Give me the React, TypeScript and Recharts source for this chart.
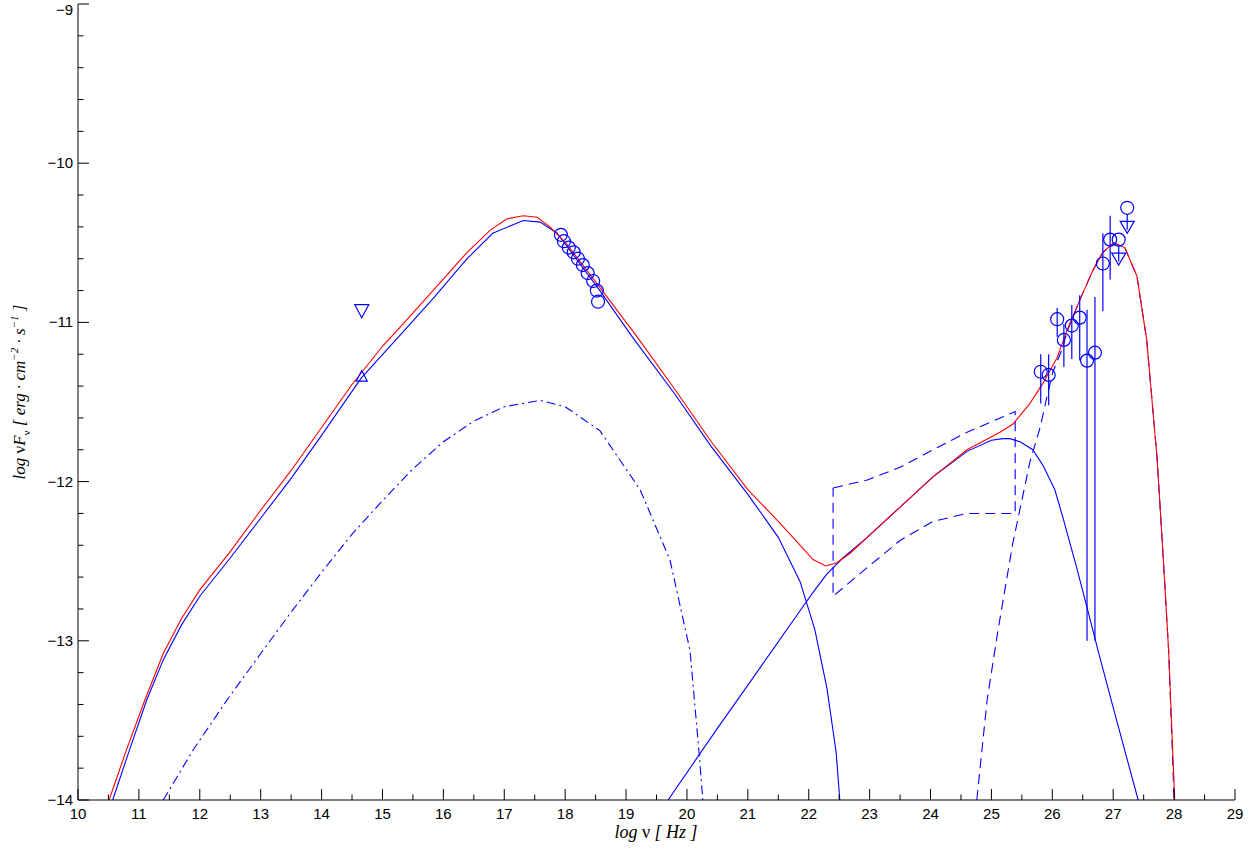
import React from 'react';
import { ComposedChart, Line, Scatter, XAxis, YAxis, ErrorBar } from 'recharts';

// ---------- tick values ----------
const xTicks = [10, 10.5, 11, 11.5, 12, 12.5, 13, 13.5, 14, 14.5, 15, 15.5, 16, 16.5, 17, 17.5, 18, 18.5, 19, 19.5, 20, 20.5, 21, 21.5, 22, 22.5, 23, 23.5, 24, 24.5, 25, 25.5, 26, 26.5, 27, 27.5, 28, 28.5, 29];
const yTicks = [-14, -13.8, -13.6, -13.4, -13.2, -13, -12.8, -12.6, -12.4, -12.2, -12, -11.8, -11.6, -11.4, -11.2, -11, -10.8, -10.6, -10.4, -10.2, -10, -9.8, -9.6, -9.4, -9.2, -9];

// ---------- model curves ----------
const totalCurve = [
  { x: 10.51, y: -14 }, { x: 10.8, y: -13.68 }, { x: 11.1, y: -13.37 }, { x: 11.4, y: -13.08 },
  { x: 11.7, y: -12.86 }, { x: 12.0, y: -12.68 }, { x: 12.5, y: -12.44 }, { x: 13.0, y: -12.18 },
  { x: 13.5, y: -11.93 }, { x: 14.0, y: -11.66 }, { x: 14.5, y: -11.39 }, { x: 15.0, y: -11.15 },
  { x: 15.29, y: -11.03 }, { x: 15.83, y: -10.8 }, { x: 16.39, y: -10.56 }, { x: 16.77, y: -10.42 },
  { x: 17.04, y: -10.35 }, { x: 17.31, y: -10.33 }, { x: 17.54, y: -10.34 }, { x: 17.75, y: -10.4 },
  { x: 18.03, y: -10.51 }, { x: 18.57, y: -10.78 }, { x: 19.2, y: -11.1 }, { x: 19.8, y: -11.42 },
  { x: 20.4, y: -11.75 }, { x: 21.0, y: -12.05 }, { x: 21.5, y: -12.25 }, { x: 21.86, y: -12.4 },
  { x: 22.07, y: -12.49 }, { x: 22.28, y: -12.53 }, { x: 22.46, y: -12.51 }, { x: 22.68, y: -12.45 },
  { x: 22.96, y: -12.35 }, { x: 23.5, y: -12.16 }, { x: 24.04, y: -11.97 }, { x: 24.6, y: -11.8 },
  { x: 25.14, y: -11.69 }, { x: 25.35, y: -11.64 }, { x: 25.63, y: -11.51 }, { x: 25.85, y: -11.38 },
  { x: 26.08, y: -11.22 }, { x: 26.24, y: -11.05 }, { x: 26.45, y: -10.86 }, { x: 26.67, y: -10.67 },
  { x: 26.83, y: -10.56 }, { x: 27.01, y: -10.5 }, { x: 27.19, y: -10.53 }, { x: 27.39, y: -10.71 },
  { x: 27.55, y: -11.11 }, { x: 27.72, y: -11.85 }, { x: 27.82, y: -12.47 }, { x: 27.91, y: -13.06 },
  { x: 28.01, y: -14 },
];

const synchrotron = [
  { x: 10.57, y: -14 }, { x: 10.85, y: -13.68 }, { x: 11.13, y: -13.37 }, { x: 11.4, y: -13.12 },
  { x: 11.7, y: -12.9 }, { x: 12.0, y: -12.72 }, { x: 12.5, y: -12.48 }, { x: 13.0, y: -12.23 },
  { x: 13.5, y: -11.98 }, { x: 14.0, y: -11.71 }, { x: 14.65, y: -11.35 }, { x: 15.29, y: -11.08 },
  { x: 15.83, y: -10.85 }, { x: 16.39, y: -10.6 }, { x: 16.81, y: -10.44 }, { x: 17.31, y: -10.36 },
  { x: 17.59, y: -10.37 }, { x: 17.87, y: -10.44 }, { x: 18.57, y: -10.8 }, { x: 19.12, y: -11.1 },
  { x: 19.8, y: -11.45 }, { x: 20.4, y: -11.78 }, { x: 21.0, y: -12.08 }, { x: 21.5, y: -12.35 },
  { x: 21.86, y: -12.63 }, { x: 22.1, y: -12.93 }, { x: 22.3, y: -13.3 }, { x: 22.45, y: -13.7 },
  { x: 22.51, y: -14 },
];

const discSync = [
  { x: 11.4, y: -14 }, { x: 11.9, y: -13.68 }, { x: 12.45, y: -13.37 }, { x: 13.0, y: -13.08 },
  { x: 13.5, y: -12.82 }, { x: 14.0, y: -12.57 }, { x: 14.5, y: -12.33 }, { x: 15.0, y: -12.12 },
  { x: 15.5, y: -11.92 }, { x: 16.0, y: -11.75 }, { x: 16.5, y: -11.62 }, { x: 17.0, y: -11.53 },
  { x: 17.59, y: -11.49 }, { x: 18.0, y: -11.53 }, { x: 18.57, y: -11.68 }, { x: 19.23, y: -12.05 },
  { x: 19.72, y: -12.49 }, { x: 20.05, y: -13.06 }, { x: 20.21, y: -13.75 }, { x: 20.26, y: -14 },
];

const ssc = [
  { x: 19.69, y: -14 }, { x: 20.5, y: -13.55 }, { x: 21.2, y: -13.17 }, { x: 21.86, y: -12.81 },
  { x: 22.1, y: -12.68 }, { x: 22.3, y: -12.58 }, { x: 22.56, y: -12.48 }, { x: 22.96, y: -12.35 },
  { x: 23.5, y: -12.16 }, { x: 24.04, y: -11.97 }, { x: 24.6, y: -11.81 }, { x: 25.0, y: -11.74 },
  { x: 25.19, y: -11.73 }, { x: 25.3, y: -11.73 }, { x: 25.47, y: -11.75 }, { x: 25.68, y: -11.8 },
  { x: 25.85, y: -11.9 }, { x: 26.04, y: -12.05 }, { x: 26.17, y: -12.22 }, { x: 26.4, y: -12.54 },
  { x: 26.57, y: -12.79 }, { x: 26.75, y: -13.06 }, { x: 27.0, y: -13.42 }, { x: 27.41, y: -14 },
];

const externalCompton = [
  { x: 24.76, y: -14 }, { x: 24.93, y: -13.37 }, { x: 25.11, y: -12.93 }, { x: 25.35, y: -12.39 },
  { x: 25.63, y: -11.88 }, { x: 25.8, y: -11.66 }, { x: 25.91, y: -11.47 }, { x: 26.01, y: -11.31 },
  { x: 26.17, y: -11.16 }, { x: 26.24, y: -11.06 }, { x: 26.45, y: -10.86 }, { x: 26.67, y: -10.67 },
  { x: 26.83, y: -10.56 }, { x: 27.01, y: -10.5 }, { x: 27.19, y: -10.53 }, { x: 27.39, y: -10.71 },
  { x: 27.55, y: -11.11 }, { x: 27.72, y: -11.85 }, { x: 27.82, y: -12.47 }, { x: 27.91, y: -13.06 },
  { x: 28.0, y: -14 },
];

// Fermi butterfly (closed outline)
const butterfly = [
  { x: 22.4, y: -12.04 }, { x: 22.96, y: -11.99 }, { x: 23.5, y: -11.91 }, { x: 24.04, y: -11.8 },
  { x: 24.6, y: -11.69 }, { x: 25.39, y: -11.56 }, { x: 25.39, y: -12.2 }, { x: 24.86, y: -12.2 },
  { x: 24.6, y: -12.2 }, { x: 24.04, y: -12.25 }, { x: 23.5, y: -12.37 }, { x: 22.96, y: -12.54 },
  { x: 22.4, y: -12.72 }, { x: 22.4, y: -12.04 },
];

// ---------- observations ----------
const xrayPoints = [
  { x: 17.93, y: -10.45 }, { x: 17.98, y: -10.49 }, { x: 18.06, y: -10.53 }, { x: 18.14, y: -10.56 },
  { x: 18.21, y: -10.6 }, { x: 18.29, y: -10.64 }, { x: 18.37, y: -10.69 }, { x: 18.46, y: -10.74 },
  { x: 18.52, y: -10.8 }, { x: 18.54, y: -10.87 },
];

const gammaPoints = [
  { x: 25.81, y: -11.31, err: [0.2, 0.11] },
  { x: 25.94, y: -11.33, err: [0.19, 0.13] },
  { x: 26.08, y: -10.98, err: [0.11, 0.07] },
  { x: 26.19, y: -11.11, err: [0.17, 0.1] },
  { x: 26.32, y: -11.02, err: [0.21, 0.13] },
  { x: 26.45, y: -10.97, err: [0.27, 0.14] },
  { x: 26.57, y: -11.24, err: [1.76, 0.32] },
  { x: 26.7, y: -11.19, err: [1.81, 0.35] },
  { x: 26.83, y: -10.63, err: [0.3, 0.19] },
  { x: 26.95, y: -10.48, err: [0.25, 0.15] },
];

const gammaUpperLimits = [
  { x: 27.09, y: -10.48 },
  { x: 27.23, y: -10.28 },
];

const opticalUpper = [{ x: 14.66, y: -10.92 }];
const opticalLower = [{ x: 14.66, y: -11.34 }];

// ---------- styling helpers ----------
const BLUE = '#0000ff';
const RED = '#ff0000';
const SANS = '"Liberation Sans", Arial, Helvetica, sans-serif';
const SERIF = '"Liberation Serif", "Times New Roman", serif';

const isMajor = (v: number) => Math.abs(v - Math.round(v)) < 1e-6;
const fmt = (v: number) => (v < 0 ? '\u2212' + Math.abs(v) : String(v));

const BottomTick = (props: any) => {
  const { x, y, payload } = props;
  const v = payload.value;
  const m = isMajor(v);
  return (
    <g>
      <line x1={x} x2={x} y1={y} y2={y - (m ? 11 : 5.5)} stroke="#000" strokeWidth={1} />
      {m && (
        <text x={x} y={y + 19} textAnchor="middle" fontSize={15} fontFamily={SANS} fill="#000">
          {fmt(v)}
        </text>
      )}
    </g>
  );
};

const TopTick = (props: any) => {
  const { x, y, payload } = props;
  const m = isMajor(payload.value);
  return <line x1={x} x2={x} y1={y} y2={y + (m ? 11 : 5.5)} stroke="#000" strokeWidth={1} />;
};

const LeftTick = (props: any) => {
  const { x, y, payload } = props;
  const v = payload.value;
  const m = isMajor(v);
  return (
    <g>
      <line x1={x} x2={x + (m ? 11 : 5.5)} y1={y} y2={y} stroke="#000" strokeWidth={1} />
      {m && (
        <text x={x - 5} y={Math.max(y + 5, 15)} textAnchor="end" fontSize={15} fontFamily={SANS} fill="#000">
          {fmt(v)}
        </text>
      )}
    </g>
  );
};

const RightTick = (props: any) => {
  const { x, y, payload } = props;
  const m = isMajor(payload.value);
  return <line x1={x} x2={x - (m ? 11 : 5.5)} y1={y} y2={y} stroke="#000" strokeWidth={1} />;
};

const CircleShape = (props: any) => {
  const { cx, cy } = props;
  if (cx == null || cy == null) return <g />;
  return <circle cx={cx} cy={cy} r={6.5} fill="none" stroke={BLUE} strokeWidth={1.2} />;
};

const UpperLimitShape = (props: any) => {
  const { cx, cy } = props;
  if (cx == null || cy == null) return <g />;
  return (
    <g fill="none" stroke={BLUE} strokeWidth={1.2}>
      <circle cx={cx} cy={cy} r={6.5} />
      <line x1={cx} x2={cx} y1={cy + 6.5} y2={cy + 22} />
      <path d={`M${cx - 7},${cy + 13.5} L${cx + 7},${cy + 13.5} L${cx},${cy + 25.5} Z`} />
    </g>
  );
};

const DownTriangle = (props: any) => {
  const { cx, cy } = props;
  if (cx == null || cy == null) return <g />;
  return (
    <path d={`M${cx - 7},${cy - 5} L${cx + 7},${cy - 5} L${cx},${cy + 8} Z`} fill="none" stroke={BLUE} strokeWidth={1.2} />
  );
};

const UpTriangle = (props: any) => {
  const { cx, cy } = props;
  if (cx == null || cy == null) return <g />;
  return (
    <path d={`M${cx - 5.5},${cy + 4.5} L${cx + 5.5},${cy + 4.5} L${cx},${cy - 6} Z`} fill="none" stroke={BLUE} strokeWidth={1.2} />
  );
};

const XTitle = () => (
  <text x={656} y={838} textAnchor="middle" fontSize={18} fontFamily={SERIF} fontStyle="italic" fill="#000">
    log <tspan fontStyle="normal">ν</tspan> [ Hz ]
  </text>
);

const YTitle = () => (
  <text
    transform="rotate(-90)"
    x={-392}
    y={25}
    textAnchor="middle"
    fontSize={17}
    fontFamily={SERIF}
    fontStyle="italic"
    fill="#000"
  >
    log <tspan fontStyle="normal">ν</tspan>F
    <tspan fontSize={11} dy={5} fontStyle="normal">ν</tspan>
    <tspan dy={-5}> [ erg · cm</tspan>
    <tspan fontSize={11} dy={-7}>−2</tspan>
    <tspan dy={7}> · s</tspan>
    <tspan fontSize={11} dy={-7}>−1</tspan>
    <tspan dy={7}> ]</tspan>
  </text>
);

export default function App() {
  return (
    <div style={{ position: 'absolute', left: 0, top: 0, width: 1260, height: 850, background: '#fff' }}>
      <ComposedChart width={1260} height={850} margin={{ top: 4, right: 25, bottom: 0, left: 8 }}>
        <XAxis
          xAxisId={0}
          dataKey="x"
          type="number"
          domain={[10, 29]}
          ticks={xTicks}
          interval={0}
          allowDataOverflow
          height={50}
          tickSize={0}
          tickMargin={0}
          tickLine={false}
          axisLine={{ stroke: '#000', strokeWidth: 1 }}
          tick={<BottomTick />}
          label={{ content: () => <XTitle /> }}
        />
        <XAxis
          xAxisId="top"
          orientation="top"
          dataKey="x"
          type="number"
          domain={[10, 29]}
          ticks={xTicks}
          interval={0}
          allowDataOverflow
          height={0}
          tickSize={0}
          tickMargin={0}
          tickLine={false}
          axisLine={{ stroke: '#000', strokeWidth: 1 }}
          tick={<TopTick />}
        />
        <YAxis
          yAxisId={0}
          dataKey="y"
          type="number"
          domain={[-14, -9]}
          ticks={yTicks}
          interval={0}
          allowDataOverflow
          width={70}
          tickSize={0}
          tickMargin={0}
          tickLine={false}
          axisLine={{ stroke: '#000', strokeWidth: 1 }}
          tick={<LeftTick />}
          label={{ content: () => <YTitle /> }}
        />
        <YAxis
          yAxisId="right"
          orientation="right"
          dataKey="y"
          type="number"
          domain={[-14, -9]}
          ticks={yTicks}
          interval={0}
          allowDataOverflow
          width={0}
          tickSize={0}
          tickMargin={0}
          tickLine={false}
          axisLine={{ stroke: '#000', strokeWidth: 1 }}
          tick={<RightTick />}
        />

        <Line data={discSync} dataKey="y" type="linear" stroke={BLUE} strokeWidth={1.1} strokeDasharray="9 4 2 4" dot={false} activeDot={false} isAnimationActive={false} />
        <Line data={butterfly} dataKey="y" type="linear" stroke={BLUE} strokeWidth={1.1} strokeDasharray="10 6" dot={false} activeDot={false} isAnimationActive={false} />
        <Line data={externalCompton} dataKey="y" type="linear" stroke={BLUE} strokeWidth={1.1} strokeDasharray="10 6" dot={false} activeDot={false} isAnimationActive={false} />
        <Line data={ssc} dataKey="y" type="linear" stroke={BLUE} strokeWidth={1.1} dot={false} activeDot={false} isAnimationActive={false} />
        <Line data={synchrotron} dataKey="y" type="linear" stroke={BLUE} strokeWidth={1.1} dot={false} activeDot={false} isAnimationActive={false} />
        <Line data={totalCurve} dataKey="y" type="linear" stroke={RED} strokeWidth={1.1} dot={false} activeDot={false} isAnimationActive={false} />

        <Scatter data={xrayPoints} dataKey="y" shape={<CircleShape />} isAnimationActive={false} />
        <Scatter data={gammaPoints} dataKey="y" shape={<CircleShape />} isAnimationActive={false}>
          <ErrorBar dataKey="err" direction="y" width={0} stroke={BLUE} strokeWidth={1.2} isAnimationActive={false} />
        </Scatter>
        <Scatter data={gammaUpperLimits} dataKey="y" shape={<UpperLimitShape />} isAnimationActive={false} />
        <Scatter data={opticalUpper} dataKey="y" shape={<DownTriangle />} isAnimationActive={false} />
        <Scatter data={opticalLower} dataKey="y" shape={<UpTriangle />} isAnimationActive={false} />
      </ComposedChart>
    </div>
  );
}
